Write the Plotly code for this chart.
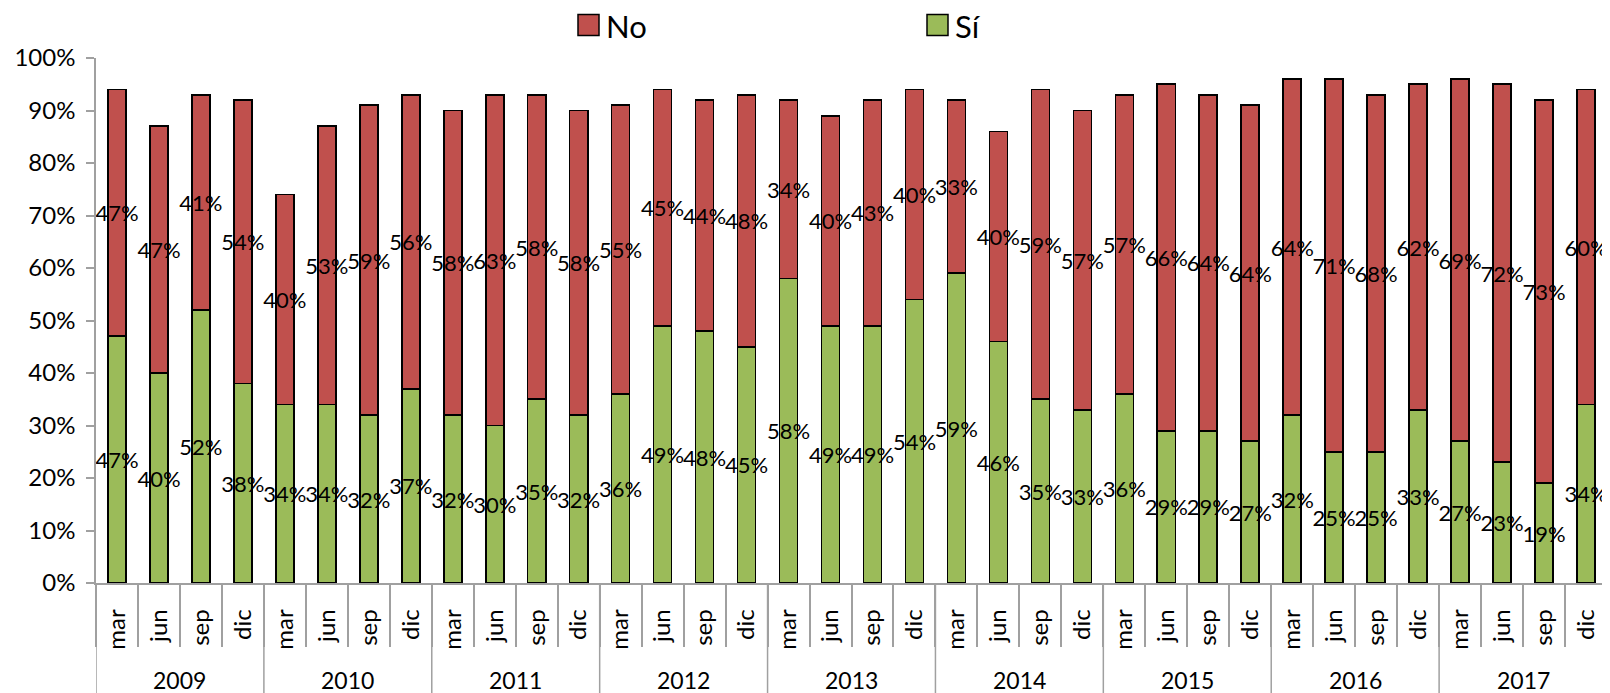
import plotly.graph_objects as go

years = ["2009", "2010", "2011", "2012", "2013", "2014", "2015", "2016", "2017"]
months = ["mar", "jun", "sep", "dic"]

si = [47, 40, 52, 38,
      34, 34, 32, 37,
      32, 30, 35, 32,
      36, 49, 48, 45,
      58, 49, 49, 54,
      59, 46, 35, 33,
      36, 29, 29, 27,
      32, 25, 25, 33,
      27, 23, 19, 34]
no = [47, 47, 41, 54,
      40, 53, 59, 56,
      58, 63, 58, 58,
      55, 45, 44, 48,
      34, 40, 43, 40,
      33, 40, 59, 57,
      57, 66, 64, 64,
      64, 71, 68, 62,
      69, 72, 73, 60]
y_ticks = list(range(0, 101, 10))
legend_items = [("No", "#C0504D"), ("Sí", "#9BBB59")]

RED = "#C0504D"
GREEN = "#9BBB59"
AXIS = "#A0A0A0"
FONT = "Lato"

# page coordinates (window 1610x693); the page body adds an 8px offset
W, H = 1610, 693
OFF = 8
L, R, T, B = 96, 3, 58, 110
plot_w = W - L - R
plot_h = H - T - B


def px_x(p):
    return (p - L) / plot_w


def px_y(p):
    return (H - B - p) / plot_h


n = len(si)
xs = list(range(n))
month_labels = [months[i % len(months)] for i in xs]

fig = go.Figure()
common = dict(
    textposition="inside", insidetextanchor="middle", constraintext="none",
    textangle=0, insidetextfont=dict(color="black", size=22, family=FONT),
    marker_line=dict(color="black", width=1.6), showlegend=False,
    hoverinfo="skip",
)
fig.add_trace(go.Bar(x=xs, y=si, name="Sí", marker_color=GREEN,
                     text=[f"{v}%" for v in si], **common))
fig.add_trace(go.Bar(x=xs, y=no, name="No", marker_color=RED,
                     text=[f"{v}%" for v in no], **common))

shapes = []
annotations = []

# year dividers
for k in range(len(years) + 1):
    xv = k * len(months) - 0.5
    shapes.append(dict(type="line", xref="x", yref="paper", x0=xv, x1=xv,
                       y0=0, y1=-B / plot_h, line=dict(color=AXIS, width=1.5)))

for k, yr in enumerate(years):
    annotations.append(dict(x=k * len(months) + (len(months) - 1) / 2, xref="x",
                            y=px_y(680), yref="paper",
                            text=yr, showarrow=False, yanchor="middle",
                            font=dict(size=23, family=FONT, color="black")))

# legend (drawn as shapes + text, above the plot)
legend_left = [578, 927]
sq = 21
cy = 25
for (name, col), lx in zip(legend_items, legend_left):
    shapes.append(dict(type="rect", xref="paper", yref="paper",
                       x0=px_x(lx), x1=px_x(lx + sq),
                       y0=px_y(cy + sq / 2), y1=px_y(cy - sq / 2),
                       fillcolor=col, line=dict(color="black", width=1.5)))
    annotations.append(dict(x=px_x(lx + sq + 5), xref="paper", y=px_y(cy + 1),
                            yref="paper", text=name, showarrow=False,
                            xanchor="left", yanchor="middle",
                            font=dict(size=31, family=FONT, color="black")))

fig.update_layout(
    barmode="stack",
    bargap=0.57,
    width=W - OFF, height=H - OFF,
    margin=dict(l=L - OFF, r=R, t=T - OFF, b=B, pad=0),
    plot_bgcolor="white", paper_bgcolor="white",
    font=dict(family=FONT, color="black"),
    showlegend=False,
    shapes=shapes,
    annotations=annotations,
    xaxis=dict(
        range=[-0.5, n - 0.5], tickmode="array", tickvals=xs,
        ticktext=month_labels, tickangle=-90, ticks="",
        tickfont=dict(size=24, family=FONT), ticklabelstandoff=15,
        showline=True, linecolor=AXIS, linewidth=1.5, showgrid=False,
        zeroline=False, automargin=False,
        minor=dict(tickmode="array", tickvals=[i - 0.5 for i in range(n + 1)],
                   ticks="outside", ticklen=62, tickcolor=AXIS, tickwidth=1.5,
                   showgrid=False),
    ),
    yaxis=dict(
        range=[0, 100], tickmode="array", tickvals=y_ticks,
        ticktext=[f"{v}%" for v in y_ticks], ticks="outside", ticklen=8,
        tickcolor=AXIS, tickwidth=1.5, showline=True, linecolor=AXIS,
        linewidth=1.5, showgrid=False, zeroline=False, automargin=False,
        tickfont=dict(size=24, family=FONT), ticklabelstandoff=6,
    ),
)

fig.write_html("out.html")
